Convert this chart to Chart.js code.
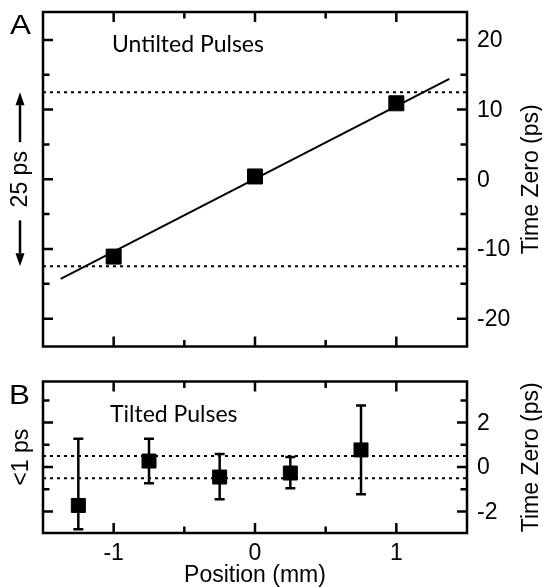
<!DOCTYPE html>
<html>
<head>
<meta charset="utf-8">
<script src="https://cdn.jsdelivr.net/npm/chart.js@4/dist/chart.umd.min.js"></script>
<style>
html, body { margin: 0; padding: 0; background: #ffffff; }
#wrap { position: relative; width: 542px; height: 587px; overflow: hidden; }
#wrap canvas { position: absolute; left: 0; }
</style>
</head>
<body>
<div id="wrap">
  <canvas id="panelA" width="542" height="365" style="top:0px"></canvas>
  <canvas id="panelB" width="542" height="222" style="top:365px"></canvas>
</div>
<script>
// ---------- shared x axis ----------
const xRange = [-1.5, 1.5];
const xMajorTicks = [-1, 0, 1];
const xMinorTicks = [-0.5, 0.5];
const xTickLabels = ['-1', '0', '1'];

// ---------- panel A : untilted pulses ----------
const positionsA = [-1, 0, 1];
const timeZeroA = [-11.1, 0.4, 10.9];
const fitLineX = [-1.375, 1.375];
const fitLineY = [-14.3, 14.4];
const windowA = [12.5, -12.5];
const yRangeA = [-24, 24];
const yMajorA = [-20, -10, 0, 10, 20];
const yMinorA = [-15, -5, 5, 15];
const yLabelsA = ['-20', '-10', '0', '10', '20'];

// ---------- panel B : tilted pulses ----------
const positionsB = [-1.25, -0.75, -0.25, 0.25, 0.75];
const timeZeroB = [-1.73, 0.27, -0.45, -0.27, 0.77];
const errHighB = [1.27, 1.27, 0.59, 0.45, 2.77];
const errLowB = [-2.8, -0.73, -1.45, -0.95, -1.23];
const windowB = [0.5, -0.5];
const yRangeB = [-2.97, 3.85];
const yMajorB = [-2, 0, 2];
const yMinorB = [-1, 1, 3];
const yLabelsB = ['-2', '0', '2'];

const INK = '#000000';
const AX_FONT = '23px "Liberation Sans", Arial, sans-serif';
const NOTE_FONT = '23px Lato, "Open Sans", sans-serif';

function hLine(yv) {
  return [{ x: xRange[0], y: yv }, { x: xRange[1], y: yv }];
}

function rotatedText(ctx, text, x, y) {
  ctx.save();
  ctx.translate(x, y);
  ctx.rotate(-Math.PI / 2);
  ctx.textAlign = 'center';
  ctx.textBaseline = 'alphabetic';
  ctx.fillText(text, 0, 0);
  ctx.restore();
}

function arrow(ctx, x, tipY, tailY) {
  const dir = Math.sign(tailY - tipY);
  const headLen = 13, headHalf = 4.5;
  ctx.save();
  ctx.strokeStyle = INK; ctx.fillStyle = INK; ctx.lineWidth = 2.5;
  ctx.beginPath();
  ctx.moveTo(x, tailY);
  ctx.lineTo(x, tipY + dir * headLen);
  ctx.stroke();
  ctx.beginPath();
  ctx.moveTo(x, tipY);
  ctx.lineTo(x - headHalf, tipY + dir * headLen);
  ctx.lineTo(x + headHalf, tipY + dir * headLen);
  ctx.closePath();
  ctx.fill();
  ctx.restore();
}

function frameAndTicks(chart, yMajor, yMinor) {
  const ctx = chart.ctx;
  const { left, right, top, bottom } = chart.chartArea;
  const xs = chart.scales.x, ys = chart.scales.y;
  ctx.save();
  ctx.strokeStyle = INK;
  ctx.lineWidth = 2.5;
  ctx.beginPath();
  const seg = (x1, y1, x2, y2) => { ctx.moveTo(x1, y1); ctx.lineTo(x2, y2); };
  [[xMajorTicks, 10], [xMinorTicks, 6.5]].forEach(([list, len]) => {
    list.forEach(v => {
      const p = xs.getPixelForValue(v);
      seg(p, top, p, top + len);
      seg(p, bottom, p, bottom - len);
    });
  });
  [[yMajor, 10], [yMinor, 6.5]].forEach(([list, len]) => {
    list.forEach(v => {
      const p = ys.getPixelForValue(v);
      seg(left, p, left + len, p);
      seg(right, p, right - len, p);
    });
  });
  ctx.stroke();
  ctx.strokeRect(left, top, right - left, bottom - top);
  ctx.restore();
}

function rightLabels(chart, values, labels) {
  const ctx = chart.ctx;
  const ys = chart.scales.y;
  ctx.save();
  ctx.fillStyle = INK;
  ctx.font = AX_FONT;
  ctx.textAlign = 'left';
  ctx.textBaseline = 'middle';
  values.forEach((v, i) => ctx.fillText(labels[i], chart.chartArea.right + 10, ys.getPixelForValue(v) + 1));
  ctx.restore();
}

function panelLetter(ctx, letter, x, y) {
  ctx.save();
  ctx.fillStyle = INK;
  ctx.font = '28px "Liberation Sans", Arial, sans-serif';
  ctx.textAlign = 'left';
  ctx.textBaseline = 'alphabetic';
  ctx.translate(x, y);
  ctx.scale(1.12, 1);
  ctx.fillText(letter, 0, 0);
  ctx.restore();
}

const decorA = {
  id: 'decorA',
  afterDatasetsDraw(chart) {
    const ctx = chart.ctx;
    const area = chart.chartArea;
    const ys = chart.scales.y;
    frameAndTicks(chart, yMajorA, yMinorA);
    rightLabels(chart, yMajorA, yLabelsA);
    ctx.save();
    ctx.fillStyle = INK;
    panelLetter(ctx, 'A', 10, 34);
    ctx.font = NOTE_FONT;
    ctx.textAlign = 'left';
    ctx.textBaseline = 'alphabetic';
    ctx.fillText('Untilted Pulses', 112, 52);
    ctx.font = AX_FONT;
    rotatedText(ctx, 'Time Zero (ps)', 538, (area.top + area.bottom) / 2);
    rotatedText(ctx, '25 ps', 27, ys.getPixelForValue(0));
    ctx.restore();
    const tipUp = ys.getPixelForValue(windowA[0]);
    const tipDown = ys.getPixelForValue(windowA[1]);
    arrow(ctx, 20, tipUp, tipUp + 50);
    arrow(ctx, 20, tipDown, tipDown - 46);
  }
};

const decorB = {
  id: 'decorB',
  afterDatasetsDraw(chart) {
    const ctx = chart.ctx;
    const area = chart.chartArea;
    const xs = chart.scales.x;
    frameAndTicks(chart, yMajorB, yMinorB);
    rightLabels(chart, yMajorB, yLabelsB);
    ctx.save();
    ctx.fillStyle = INK;
    panelLetter(ctx, 'B', 9, 39);
    ctx.font = NOTE_FONT;
    ctx.textAlign = 'left';
    ctx.textBaseline = 'alphabetic';
    ctx.fillText('Tilted Pulses', 110, 57);
    ctx.font = AX_FONT;
    ctx.textAlign = 'center';
    xMajorTicks.forEach((v, i) => ctx.fillText(xTickLabels[i], xs.getPixelForValue(v), area.bottom + 27));
    ctx.fillText('Position (mm)', (area.left + area.right) / 2, 217);
    rotatedText(ctx, 'Time Zero (ps)', 538, (area.top + area.bottom) / 2);
    rotatedText(ctx, '<1 ps', 28, (area.top + area.bottom) / 2);
    ctx.restore();
  }
};

function baseOptions(yRange, padding) {
  return {
    responsive: false,
    devicePixelRatio: 1,
    animation: false,
    events: [],
    layout: { padding },
    plugins: { legend: { display: false }, tooltip: { enabled: false } },
    scales: {
      x: { type: 'linear', min: xRange[0], max: xRange[1], display: false },
      y: { type: 'linear', min: yRange[0], max: yRange[1], display: false }
    }
  };
}

// ---------- panel A chart ----------
new Chart(document.getElementById('panelA'), {
  type: 'scatter',
  data: {
    datasets: [
      {
        data: positionsA.map((x, i) => ({ x, y: timeZeroA[i] })),
        pointStyle: 'rect', pointRadius: 10.6, pointBorderWidth: 1,
        backgroundColor: INK, borderColor: INK
      },
      {
        data: fitLineX.map((x, i) => ({ x, y: fitLineY[i] })),
        showLine: true, borderColor: INK, borderWidth: 2, pointRadius: 0
      },
      {
        data: hLine(windowA[0]),
        showLine: true, borderColor: INK, borderWidth: 2, borderDash: [3, 4], pointRadius: 0
      },
      {
        data: hLine(windowA[1]),
        showLine: true, borderColor: INK, borderWidth: 2, borderDash: [3, 4], pointRadius: 0
      }
    ]
  },
  options: baseOptions(yRangeA, { left: 43, top: 12, right: 75, bottom: 18.5 }),
  plugins: [decorA]
});

// ---------- panel B chart ----------
const errorBarData = [];
positionsB.forEach((x, i) => {
  errorBarData.push({ x, y: errLowB[i] }, { x, y: errHighB[i] }, { x, y: null });
});

new Chart(document.getElementById('panelB'), {
  type: 'scatter',
  data: {
    datasets: [
      {
        data: positionsB.map((x, i) => ({ x, y: timeZeroB[i] })),
        pointStyle: 'rect', pointRadius: 9.9, pointBorderWidth: 1,
        backgroundColor: INK, borderColor: INK
      },
      {
        data: errorBarData,
        showLine: true, spanGaps: false, borderColor: INK, borderWidth: 2.5,
        pointStyle: 'line', pointRadius: 5, pointBorderWidth: 2.5, pointBorderColor: INK
      },
      {
        data: hLine(windowB[0]),
        showLine: true, borderColor: INK, borderWidth: 2, borderDash: [3, 4], pointRadius: 0
      },
      {
        data: hLine(windowB[1]),
        showLine: true, borderColor: INK, borderWidth: 2, borderDash: [3, 4], pointRadius: 0
      }
    ]
  },
  options: baseOptions(yRangeB, { left: 43, top: 16.5, right: 75, bottom: 54 }),
  plugins: [decorB]
});
</script>
</body>
</html>
